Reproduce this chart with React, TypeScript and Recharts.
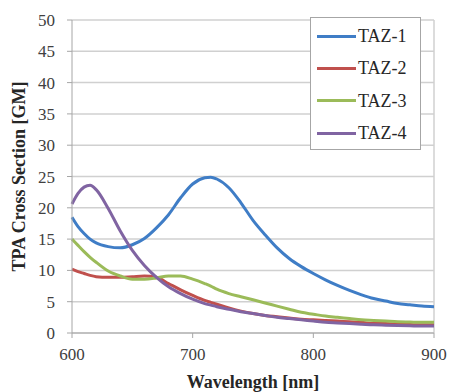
import { LineChart, Line, XAxis, YAxis, CartesianGrid, Legend, ReferenceLine } from 'recharts'

const wavelength = [600, 605, 610, 615, 620, 630, 640, 650, 660, 670, 680, 690, 700, 710, 715, 720, 730, 740, 750, 760, 770, 780, 790, 800, 810, 820, 830, 840, 850, 860, 870, 880, 890, 900]
const taz1 = [18.5, 17.0, 15.9, 15.0, 14.4, 13.8, 13.6, 14.1, 15.1, 16.8, 18.9, 21.6, 23.8, 24.8, 24.9, 24.6, 23.2, 20.8, 18.0, 15.7, 13.6, 11.9, 10.6, 9.5, 8.5, 7.6, 6.8, 6.1, 5.5, 5.1, 4.7, 4.5, 4.3, 4.2]
const taz2 = [10.2, 9.8, 9.5, 9.2, 9.0, 8.9, 8.9, 9.0, 9.1, 8.9, 7.9, 6.9, 6.0, 5.2, 4.9, 4.6, 4.0, 3.5, 3.1, 2.8, 2.6, 2.4, 2.2, 2.1, 2.0, 1.9, 1.8, 1.7, 1.5, 1.5, 1.4, 1.35, 1.3, 1.3]
const taz3 = [15.0, 14.0, 13.0, 12.1, 11.3, 9.9, 9.1, 8.6, 8.6, 8.8, 9.1, 9.1, 8.6, 7.9, 7.5, 7.0, 6.3, 5.8, 5.3, 4.8, 4.3, 3.8, 3.3, 3.0, 2.7, 2.5, 2.3, 2.1, 2.0, 1.9, 1.8, 1.75, 1.7, 1.7]
const taz4 = [20.6, 22.3, 23.3, 23.6, 22.9, 19.9, 16.3, 13.2, 10.8, 8.9, 7.4, 6.3, 5.4, 4.7, 4.45, 4.2, 3.8, 3.4, 3.1, 2.8, 2.5, 2.3, 2.1, 1.9, 1.7, 1.6, 1.5, 1.4, 1.3, 1.25, 1.2, 1.15, 1.1, 1.1]

const xTicks = [600, 700, 800, 900]
const yTicks = [0, 5, 10, 15, 20, 25, 30, 35, 40, 45, 50]

const series = [
  { key: 'taz1', name: 'TAZ-1', color: '#3f7dc6' },
  { key: 'taz2', name: 'TAZ-2', color: '#c0504d' },
  { key: 'taz3', name: 'TAZ-3', color: '#9bbb59' },
  { key: 'taz4', name: 'TAZ-4', color: '#8064a2' },
]

const data = wavelength.map((w, i) => ({ w, taz1: taz1[i], taz2: taz2[i], taz3: taz3[i], taz4: taz4[i] }))

const FONT = '"Times New Roman", "Liberation Serif", serif'
const AXIS = '#a6a6a6'

function YTitle({ viewBox }: any) {
  const cx = viewBox.x + 19
  const cy = viewBox.y + viewBox.height / 2
  return (
    <text x={cx} y={cy} transform={`rotate(-90, ${cx}, ${cy})`} textAnchor="middle" dominantBaseline="central"
      style={{ fontFamily: FONT, fontSize: 18, fontWeight: 700, fill: '#262626' }}>
      TPA Cross Section [GM]
    </text>
  )
}

function LegendBox() {
  return (
    <div style={{ width: 111, height: 133, boxSizing: 'border-box', border: '1px solid #a6a6a6', background: '#fff', paddingTop: 2 }}>
      {series.map(s => (
        <div key={s.key} style={{ display: 'flex', alignItems: 'center', height: 32.3 }}>
          <span style={{ display: 'inline-block', width: 39, height: 3, background: s.color, marginLeft: 6 }} />
          <span style={{ marginLeft: 2, fontSize: 18, fontFamily: FONT, color: '#262626', lineHeight: 1 }}>{s.name}</span>
        </div>
      ))}
    </div>
  )
}

const tickStyle = { fill: '#404040', fontSize: 17, style: { fontFamily: FONT } }

export default function App() {
  return (
    <div style={{ position: 'absolute', left: 0, top: 0, width: 450, height: 392, background: '#fff', fontFamily: FONT }}>
      <LineChart width={450} height={392} data={data} margin={{ top: 20, right: 16, bottom: 0, left: 0 }} style={{ fontFamily: FONT }}>
        <CartesianGrid vertical={false} stroke="#d0d0d0" strokeWidth={1.5} />
        <XAxis dataKey="w" type="number" domain={[600, 900]} ticks={xTicks} height={59}
          tickSize={5} tickMargin={10} stroke={AXIS} tick={tickStyle}
          label={{ value: 'Wavelength [nm]', position: 'insideBottom', offset: 4, fill: '#262626', fontSize: 18, fontWeight: 700, style: { fontFamily: FONT } }} />
        <YAxis type="number" domain={[0, 50]} ticks={yTicks} width={72} interval={0}
          tickSize={5} tickMargin={12} stroke={AXIS} tick={tickStyle}
          label={<YTitle />} />
        <ReferenceLine x={900} stroke="#d0d0d0" strokeWidth={1.5} />
        <Legend layout="horizontal" verticalAlign="middle" align="center" content={<LegendBox />}
          wrapperStyle={{ left: 310, top: 17, width: 111, height: 133 }} />
        {series.map(s => (
          <Line key={s.key} type="monotone" dataKey={s.key} name={s.name} stroke={s.color} strokeWidth={3}
            dot={false} isAnimationActive={false} />
        ))}
      </LineChart>
    </div>
  )
}
